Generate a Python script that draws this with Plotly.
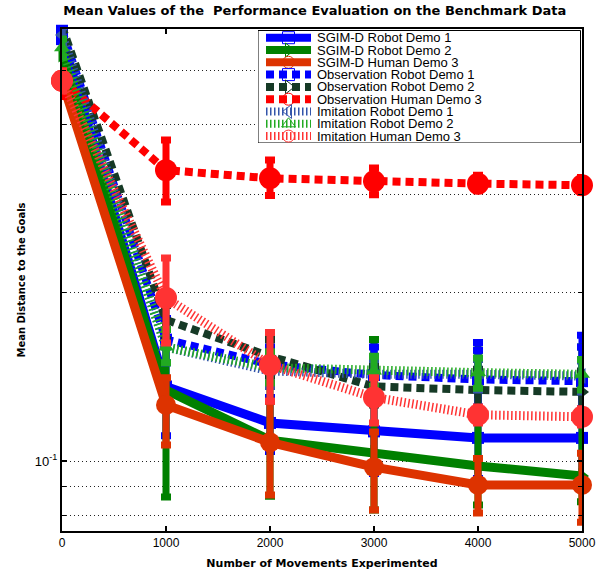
import plotly.graph_objects as go

x_moves = [0, 1000, 2000, 3000, 4000, 5000]

# SGIM-D Robot Demo 1
sgim_r1 = [0.570, 0.136, 0.117, 0.113, 0.110, 0.110]
sgim_r1_hi = [0.600, 0.160, 0.130, 0.165, 0.163, 0.168]
sgim_r1_lo = [0.540, 0.111, 0.104, 0.095, 0.093, 0.093]
# SGIM-D Robot Demo 2
sgim_r2 = [0.535, 0.134, 0.109, 0.1034, 0.098, 0.094]
sgim_r2_hi = [0.560, 0.180, 0.160, 0.165, 0.158, 0.160]
sgim_r2_lo = [0.500, 0.0862, 0.0865, 0.0817, 0.0834, 0.0845]
# SGIM-D Human Demo 3
sgim_h3 = [0.480, 0.126, 0.108, 0.0975, 0.0906, 0.0906]
sgim_h3_hi = [0.500, 0.141, 0.128, 0.1127, 0.101, 0.1033]
sgim_h3_lo = [0.460, 0.1068, 0.0869, 0.0817, 0.0807, 0.0777]
# Observation Robot Demo 1
obs_r1 = [0.590, 0.165, 0.149, 0.1426, 0.140, 0.139]
obs_r1_hi = [0.610, 0.180, 0.160, 0.160, 0.158, 0.160]
obs_r1_lo = [0.560, 0.150, 0.138, 0.128, 0.125, 0.124]
# Observation Robot Demo 2
obs_r2 = [0.600, 0.179, 0.154, 0.136, 0.134, 0.133]
obs_r2_hi = [0.620, 0.190, 0.165, 0.148, 0.146, 0.145]
obs_r2_lo = [0.570, 0.165, 0.142, 0.126, 0.124, 0.123]
# Observation Human Demo 3
obs_h3 = [0.480, 0.332, 0.321, 0.317, 0.314, 0.312]
obs_h3_hi = [0.500, 0.376, 0.346, 0.335, 0.325, 0.322]
obs_h3_lo = [0.450, 0.291, 0.299, 0.300, 0.305, 0.303]
# Imitation Robot Demo 1
imi_r1 = [0.580, 0.160, 0.145, 0.143, 0.143, 0.142]
imi_r1_hi = [0.600, 0.172, 0.155, 0.152, 0.152, 0.151]
imi_r1_lo = [0.560, 0.150, 0.136, 0.134, 0.134, 0.133]
# Imitation Robot Demo 2
imi_r2 = [0.550, 0.160, 0.147, 0.145, 0.144, 0.143]
imi_r2_hi = [0.570, 0.172, 0.157, 0.154, 0.153, 0.152]
imi_r2_lo = [0.530, 0.150, 0.138, 0.136, 0.135, 0.134]
# Imitation Human Demo 3
imi_h3 = [0.480, 0.196, 0.1486, 0.130, 0.121, 0.120]
imi_h3_hi = [0.500, 0.231, 0.170, 0.141, 0.125, 0.124]
imi_h3_lo = [0.460, 0.1627, 0.128, 0.117, 0.117, 0.116]

names = ["SGIM-D Robot Demo 1", "SGIM-D Robot Demo 2", "SGIM-D Human Demo 3",
         "Observation Robot Demo 1", "Observation Robot Demo 2", "Observation Human Demo 3",
         "Imitation Robot Demo 1", "Imitation Robot Demo 2", "Imitation Human Demo 3"]

y_major_ticks = [0.1]
y_major_text = ["10<sup>-1</sup>"]
y_minor_ticks = [0.08, 0.09, 0.2, 0.3, 0.4, 0.5]

# (values, hi, lo, colour, dash, line width, marker symbol, marker size)
series = [
    (sgim_r1, sgim_r1_hi, sgim_r1_lo, "#0000ff", "solid", 9, "square", 12),
    (sgim_r2, sgim_r2_hi, sgim_r2_lo, "#008000", "solid", 9, "triangle-right", 14),
    (sgim_h3, sgim_h3_hi, sgim_h3_lo, "#dd3300", "solid", 9, "circle", 20),
    (obs_r1, obs_r1_hi, obs_r1_lo, "#0000ff", "8px,5px", 8, "square", 12),
    (obs_r2, obs_r2_hi, obs_r2_lo, "#163a26", "8px,5px", 8, "triangle-right", 14),
    (obs_h3, obs_h3_hi, obs_h3_lo, "#ff0000", "8px,5px", 8, "circle", 22),
    (imi_r1, imi_r1_hi, imi_r1_lo, "#3355aa", "1.5px,2.5px", 9, "triangle-left", 14),
    (imi_r2, imi_r2_hi, imi_r2_lo, "#22aa22", "1.5px,2.5px", 9, "triangle-up", 14),
    (imi_h3, imi_h3_hi, imi_h3_lo, "#ff3333", "1.5px,2.5px", 9, "circle", 22),
]

fig = go.Figure()
for name, (y, hi, lo, col, dash, lw, sym, ms) in zip(names, series):
    up = [h - v for h, v in zip(hi, y)]
    dn = [v - l for l, v in zip(lo, y)]
    fig.add_trace(go.Scatter(
        x=x_moves, y=y, name=name, mode="lines+markers", showlegend=False,
        line=dict(color=col, width=lw, dash=dash),
        marker=dict(color=col, size=ms, symbol=sym),
        error_y=dict(type="data", array=up, arrayminus=dn, color=col,
                     thickness=7, width=5, visible=True),
        cliponaxis=False,
    ))

# ---- legend box drawn in its own small subplot (legend-local units) ----
LEG_W, LEG_H = 324, 114
ROW0, ROW_STEP = 8.7, 12.3
SAMPLE_X0, SAMPLE_X1, TEXT_X = 8, 53, 57
fig.add_trace(go.Scatter(
    x=[0, LEG_W - 1.5, LEG_W - 1.5, 0, 0], y=[1.5, 1.5, LEG_H, LEG_H, 1.5],
    xaxis="x2", yaxis="y2", mode="lines", fill="toself", fillcolor="white",
    line=dict(color="black", width=1), showlegend=False, hoverinfo="skip"))
for i, (name, (y, hi, lo, col, dash, lw, sym, ms)) in enumerate(zip(names, series)):
    ry = ROW0 + ROW_STEP * i
    fig.add_trace(go.Scatter(
        x=[SAMPLE_X0, SAMPLE_X1], y=[ry, ry], xaxis="x2", yaxis="y2",
        mode="lines", line=dict(color=col, width=min(lw, 8), dash=dash),
        showlegend=False, hoverinfo="skip", cliponaxis=False))
    fig.add_trace(go.Scatter(
        x=[(SAMPLE_X0 + SAMPLE_X1) / 2], y=[ry], xaxis="x2", yaxis="y2",
        mode="markers", marker=dict(symbol=sym + "-open", size=12, color=col,
                                    line=dict(width=1, color=col)),
        showlegend=False, hoverinfo="skip", cliponaxis=False))
    fig.add_annotation(x=TEXT_X, y=ry, xref="x2", yref="y2", text=name,
                       showarrow=False, xanchor="left", yanchor="middle",
                       font=dict(size=13, family="Liberation Sans, Arial, sans-serif",
                                 color="black"))

font = "Liberation Sans, Arial, sans-serif"
bold = "DejaVu Sans, sans-serif"
fig.update_layout(
    width=602, height=571,
    margin=dict(l=62, r=20, t=29, b=40, autoexpand=False),
    paper_bgcolor="white", plot_bgcolor="white",
    font=dict(family=font, size=12, color="black"),
    title=dict(text="<b>Mean Values of the  Performance Evaluation on the Benchmark Data</b>",
               x=0.523, xanchor="center", y=0.99, yanchor="top",
               font=dict(size=13, family=bold)),
    showlegend=False,
    xaxis=dict(range=[0, 5000], tickvals=x_moves,
               showgrid=False, zeroline=False, showline=True, linecolor="black",
               linewidth=2, mirror="ticks", ticks="inside", ticklen=5,
               tickcolor="black", tickwidth=1.5, automargin=False,
               title=dict(text="<b>Number of Movements Experimented</b>",
                          font=dict(size=11, family=bold), standoff=10),
               tickfont=dict(size=12)),
    yaxis=dict(type="log", range=[-1.1254, -0.226],
               tickvals=y_major_ticks, ticktext=y_major_text,
               showgrid=True, gridcolor="#222222", griddash="1px,3px", gridwidth=1,
               zeroline=False, showline=True, linecolor="black", linewidth=2,
               mirror="ticks", ticks="inside", ticklen=5, tickcolor="black",
               tickwidth=1.5, automargin=False,
               minor=dict(tickvals=y_minor_ticks, showgrid=True, gridcolor="#222222",
                          griddash="1px,3px", gridwidth=1, ticks="inside",
                          ticklen=4, tickcolor="black", tickwidth=1),
               title=dict(text="<b>Mean Distance to the Goals</b>",
                          font=dict(size=10, family=bold), standoff=7),
               tickfont=dict(size=13)),
    xaxis2=dict(domain=[(258 - 62) / 520, 1], anchor="y2", range=[0, LEG_W],
                visible=False, fixedrange=True),
    yaxis2=dict(domain=[(531 - 143) / 502, 1], anchor="x2", range=[LEG_H, 0],
                visible=False, fixedrange=True),
)

fig.write_html("out.html")
